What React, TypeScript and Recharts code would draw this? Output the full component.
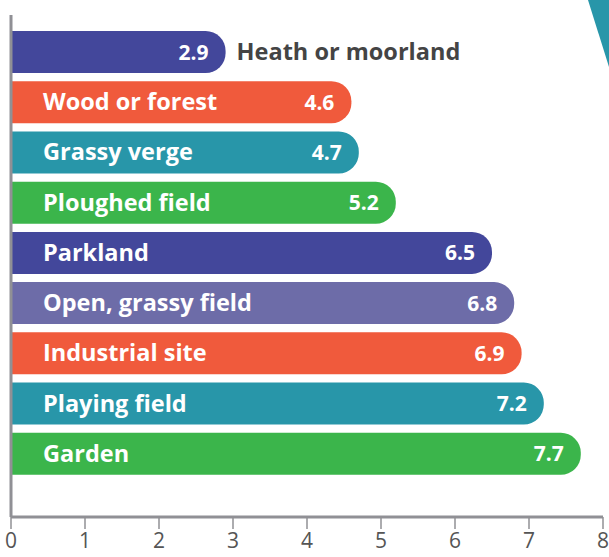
import { BarChart, Bar, XAxis, YAxis, Rectangle, ReferenceLine } from 'recharts';

const categories = [
  'Heath or moorland',
  'Wood or forest',
  'Grassy verge',
  'Ploughed field',
  'Parkland',
  'Open, grassy field',
  'Industrial site',
  'Playing field',
  'Garden',
];
const values = [2.9, 4.6, 4.7, 5.2, 6.5, 6.8, 6.9, 7.2, 7.7];
const barColors = ['#43479b', '#f05a3c', '#2896a9', '#3bb54b', '#43479b', '#6d6ca8', '#f05a3c', '#2896a9', '#3bb54b'];
const xTicks = [0, 1, 2, 3, 4, 5, 6, 7, 8];

const data = categories.map((name, i) => ({ name, value: values[i], color: barColors[i] }));

const FONT = '"Open Sans", "Noto Sans", sans-serif';
const AXIS = '#909095';

function BarShape(props: any) {
  const { x, y, width, height, payload } = props;
  const cy = y + height / 2;
  // rough text width check: does the name fit inside next to the value?
  const nameFits = payload.name.length * 11.5 + 32 + 60 < width;
  return (
    <g>
      <Rectangle x={x} y={y} width={width} height={height} fill={payload.color} radius={[0, 20, 20, 0]} />
      <text
        x={x + width - 17}
        y={cy + 7.5}
        textAnchor="end"
        fill="#fff"
        fontFamily={FONT}
        fontWeight={700}
        fontSize={21}
      >
        {payload.value.toFixed(1)}
      </text>
      <text
        x={nameFits ? x + 32 : x + width + 11}
        y={cy + 8}
        fill={nameFits ? '#fff' : '#444'}
        fontFamily={FONT}
        fontWeight={700}
        fontSize={23.5}
      >
        {payload.name}
      </text>
    </g>
  );
}

export default function App() {
  return (
    <div style={{ position: 'absolute', left: 0, top: 0, width: 609, height: 557, background: '#fff', overflow: 'hidden' }}>
      <BarChart
        width={609}
        height={557}
        data={data}
        layout="vertical"
        margin={{ top: 15, right: 6, bottom: 0, left: 11 }}
      >
        <XAxis
          type="number"
          domain={[0, 8]}
          ticks={xTicks}
          interval={0}
          height={40}
          axisLine={{ stroke: AXIS, strokeWidth: 3 }}
          tickLine={{ stroke: AXIS, strokeWidth: 1.5 }}
          tickSize={12}
          tickMargin={4}
          tick={{ fill: '#555', fontSize: 21, fontFamily: FONT }}
        />
        <YAxis
          type="category"
          dataKey="name"
          width={0}
          tick={false}
          tickLine={false}
          axisLine={false}
          padding={{ top: 12, bottom: 38 }}
        />
        <ReferenceLine x={0} stroke={AXIS} strokeWidth={3} />
        <Bar dataKey="value" barSize={42} isAnimationActive={false} shape={BarShape} />
      </BarChart>
      <svg width={609} height={557} style={{ position: 'absolute', left: 0, top: 0, pointerEvents: 'none' }}>
        <polygon points="588,0 609,0 609,67" fill="#2896a9" />
      </svg>
    </div>
  );
}
